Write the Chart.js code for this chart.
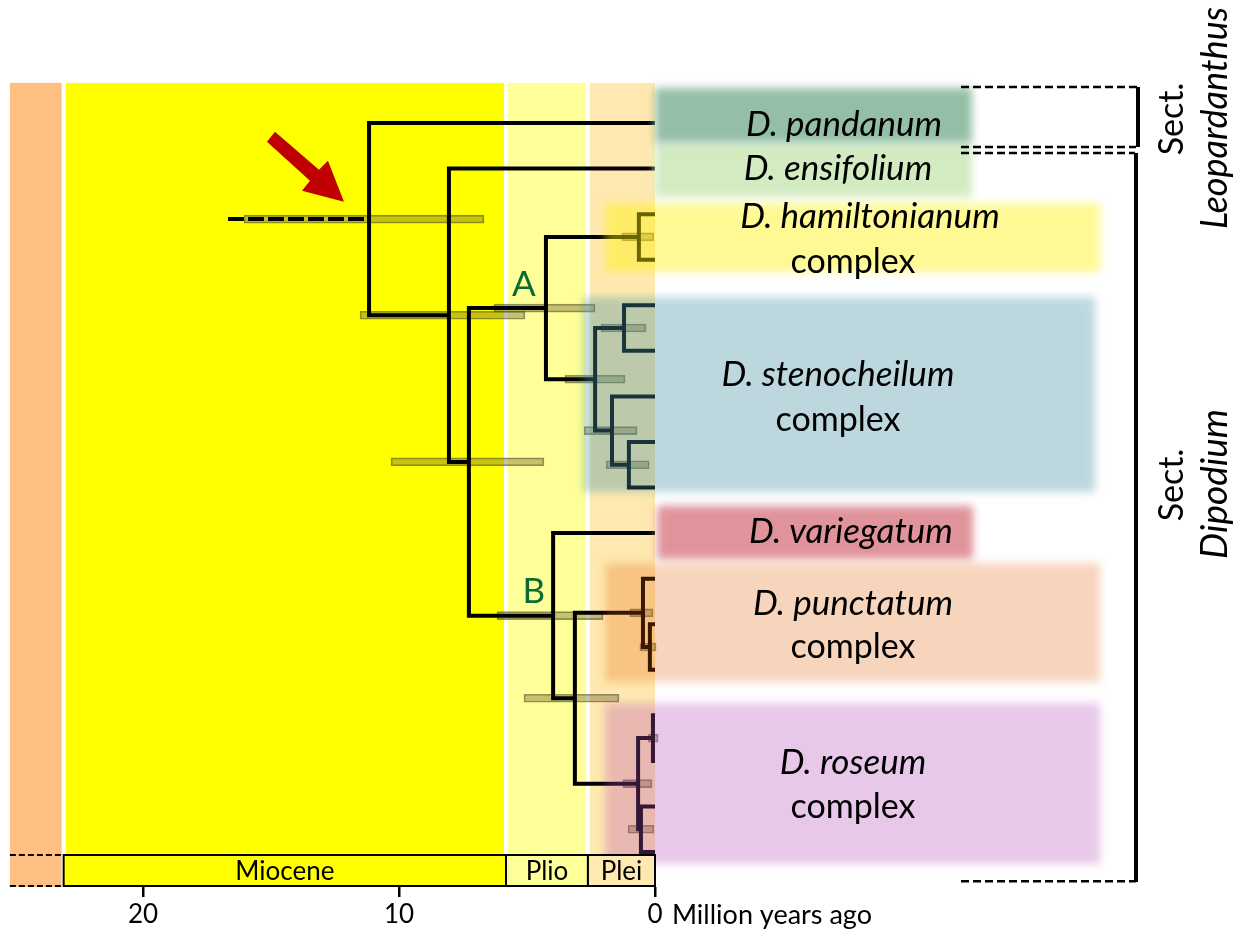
<!DOCTYPE html>
<html>
<head>
<meta charset="utf-8">
<script src="https://cdn.jsdelivr.net/npm/chart.js@4.4.1/dist/chart.umd.min.js"></script>
<style>
  html, body { margin: 0; padding: 0; background: #ffffff; }
  canvas { display: block; }
</style>
</head>
<body>
<canvas id="tree" width="1249" height="937"></canvas>
<script>
// ---- Tips, top to bottom (row = position in this list) ----
const tipNames = ['pandanum', 'ensifolium', 'ham1', 'ham2',
  'sten1', 'sten2', 'sten3', 'sten4', 'sten5', 'variegatum',
  'punct1', 'punct2', 'punct3', 'ros1', 'ros2', 'ros3', 'ros4'];

// ---- Internal nodes: children, mean age (Ma) and 95% HPD interval ----
const nodeNames = ['root', 'n2', 'n3', 'A', 'ham', 'S1', 'S1a', 'S1b', 'S1b2',
  'B', 'B2', 'P1', 'P2', 'R', 'R1', 'R2'];
const nodeChildren = [
  ['pandanum', 'n2'], ['ensifolium', 'n3'], ['A', 'B'], ['ham', 'S1'],
  ['ham1', 'ham2'], ['S1a', 'S1b'], ['sten1', 'sten2'], ['sten3', 'S1b2'],
  ['sten4', 'sten5'], ['variegatum', 'B2'], ['P1', 'R'], ['punct1', 'P2'],
  ['punct2', 'punct3'], ['R1', 'R2'], ['ros1', 'ros2'], ['ros3', 'ros4']];
const nodeAges  = [11.17, 8.05, 7.27, 4.26, 0.63, 2.34, 1.21, 1.68, 1.02, 3.98, 3.13, 0.47, 0.20, 0.66, 0.08, 0.55];
const hpdOld    = [16.05, 11.52, 10.31, 6.29, 1.29, 3.52, 2.11, 2.77, 1.91, 6.17, 5.12, 0.98, 0.59, 1.25, 0.27, 1.05];
const hpdYoung  = [6.68, 5.08, 4.34, 2.34, 0.00, 1.17, 0.35, 0.70, 0.23, 2.03, 1.41, 0.08, -0.04, 0.12, -0.12, 0.04];
const rootStemAge = 16.68;

// ---- Geological time scale ----
const epochNames = ['', 'Miocene', 'Plio', 'Plei'];
const epochOld   = [25.2, 23.1, 5.82, 2.62];
const epochYoung = [23.1, 5.82, 2.62, 0];
const epochColors = ['#ffbf80', '#ffff00', '#ffff99', '#ffe9b0'];

// ---- Axis ----
const tickValues = [20, 10, 0];
const axisTitle = 'Million years ago';

// ---- Clades and sections ----
const cladeNames  = ['D. pandanum', 'D. ensifolium', 'D. hamiltonianum', 'D. stenocheilum', 'D. variegatum', 'D. punctatum', 'D. roseum'];
const cladeSuffix = ['', '', 'complex', 'complex', '', 'complex', 'complex'];
const sectionNames = ['Leopardanthus', 'Dipodium'];

// ---------- layout helpers ----------
const tipIndex = Object.fromEntries(tipNames.map((n, i) => [n, i]));
const nodeIndex = Object.fromEntries(nodeNames.map((n, i) => [n, i]));
const rowOf = (name) => {
  if (name in tipIndex) return tipIndex[name];
  const c = nodeChildren[nodeIndex[name]];
  return (rowOf(c[0]) + rowOf(c[1])) / 2;
};
const ageOf = (name) => (name in tipIndex) ? 0 : nodeAges[nodeIndex[name]];

// Branch datasets: one bracket per internal node
const branchSets = nodeNames.map((n, i) => {
  const [a, b] = nodeChildren[i];
  return {
    type: 'line',
    data: [
      { x: ageOf(a), y: rowOf(a) },
      { x: nodeAges[i], y: rowOf(a) },
      { x: nodeAges[i], y: rowOf(b) },
      { x: ageOf(b), y: rowOf(b) }
    ],
    borderColor: '#000000', borderWidth: 4, pointRadius: 0, tension: 0,
    borderJoinStyle: 'miter', borderCapStyle: 'butt', fill: false, order: 1
  };
});

// Stem leading into the root, dashed
branchSets.push({
  type: 'line',
  data: [{ x: rootStemAge, y: rowOf('root') }, { x: nodeAges[0], y: rowOf('root') }],
  borderColor: '#000000', borderWidth: 4, borderDash: [16, 4], pointRadius: 0,
  borderCapStyle: 'butt', fill: false, order: 1
});

// HPD bars as floating horizontal bars
const hpdSet = {
  type: 'bar', indexAxis: 'y',
  data: nodeNames.map((n, i) => ({ x: [hpdYoung[i], hpdOld[i]], y: rowOf(n) })),
  backgroundColor: 'rgba(110,102,40,0.40)', borderColor: 'rgba(60,60,40,0.55)',
  borderWidth: 1, borderSkipped: false, barThickness: 8, order: 2
};

// ---------- decoration styles ----------
const FONT = 'Lato, "Open Sans", sans-serif';
const bandTopRow = -0.88;
const cladeBoxes = [
  { fill: '#94bfa6', top: -0.77, bottom: 0.44, left: 0.0, right: 972, cx: 844, rows: [0.04] },
  { fill: '#d3ebc1', top: 0.44, bottom: 1.62, left: 0.0, right: 972, cx: 838, rows: [1.01] },
  { fill: 'rgba(255,240,0,0.42)', top: 1.76, bottom: 3.27, left: 1.95, right: 1100, cx: 870, cx2: 853, rows: [2.06, 3.05] },
  { fill: 'rgba(70,147,164,0.36)', top: 3.82, bottom: 8.1, left: 2.81, right: 1095, cx: 838, rows: [5.53, 6.52] },
  { fill: '#e0939a', top: 8.4, bottom: 9.57, left: -0.08, right: 973, cx: 851, rows: [8.96] },
  { fill: 'rgba(223,92,0,0.26)', top: 9.66, bottom: 12.27, left: 1.95, right: 1100, cx: 853, rows: [10.54, 11.5] },
  { fill: 'rgba(180,73,180,0.30)', top: 12.73, bottom: 16.26, left: 1.95, right: 1100, cx: 853, rows: [14.05, 15.01] }
];
const boxDrawOrder = [1, 0, 2, 3, 4, 5, 6];

const decorPlugin = {
  id: 'decor',
  beforeDatasetsDraw(chart) {
    const { ctx, chartArea } = chart;
    const xs = chart.scales.x, ys = chart.scales.y;
    const top = ys.getPixelForValue(bandTopRow);
    ctx.save();
    epochOld.forEach((o, i) => {
      const x1 = xs.getPixelForValue(o) + (i > 0 ? 2 : 0);
      const x2 = xs.getPixelForValue(epochYoung[i]) - (i < epochOld.length - 1 ? 2 : 0);
      ctx.fillStyle = epochColors[i];
      ctx.fillRect(x1, top, x2 - x1, chartArea.bottom - top);
    });
    ctx.restore();
  },
  afterDatasetsDraw(chart) {
    const { ctx, chartArea } = chart;
    const xs = chart.scales.x, ys = chart.scales.y;
    const X = v => xs.getPixelForValue(v), Y = v => ys.getPixelForValue(v);
    ctx.save();

    // translucent clade boxes with soft edges
    ctx.filter = 'blur(4px)';
    boxDrawOrder.forEach(i => {
      const b = cladeBoxes[i];
      const x1 = X(b.left), y1 = Y(b.top), y2 = Y(b.bottom);
      ctx.fillStyle = b.fill;
      ctx.fillRect(x1, y1, b.right - x1, y2 - y1);
    });
    ctx.filter = 'none';

    // clade names
    ctx.fillStyle = '#000';
    ctx.textAlign = 'center';
    ctx.textBaseline = 'middle';
    cladeBoxes.forEach((b, i) => {
      ctx.font = 'italic 35px ' + FONT;
      ctx.fillText(cladeNames[i], b.cx, Y(b.rows[0]));
      if (cladeSuffix[i]) {
        ctx.font = '34px ' + FONT;
        ctx.fillText(cladeSuffix[i], b.cx2 || b.cx, Y(b.rows[1]));
      }
    });

    // clade letters
    ctx.fillStyle = '#0b6b35';
    ctx.font = '35px ' + FONT;
    ctx.fillText('A', X(5.12), Y(3.56));
    ctx.fillText('B', X(4.73), Y(10.29));

    // time-scale box at the bottom
    const by2 = chartArea.bottom - 1, by1 = by2 - 31;
    ctx.lineWidth = 2;
    ctx.strokeStyle = '#000';
    for (let i = 1; i < epochOld.length; i++) {
      const x1 = X(epochOld[i]), x2 = X(epochYoung[i]);
      ctx.fillStyle = epochColors[i];
      ctx.fillRect(x1, by1, x2 - x1, by2 - by1);
      ctx.strokeRect(x1, by1, x2 - x1, by2 - by1);
      ctx.fillStyle = '#000';
      ctx.font = '26px ' + FONT;
      ctx.fillText(epochNames[i], (x1 + x2) / 2, (by1 + by2) / 2 + 1);
    }
    ctx.setLineDash([6, 3]);
    [by1, by2].forEach(yy => {
      ctx.beginPath();
      ctx.moveTo(X(epochOld[0]), yy);
      ctx.lineTo(X(epochYoung[0]) - 2, yy);
      ctx.stroke();
    });

    // section brackets
    ctx.setLineDash([8, 4]);
    ctx.lineWidth = 2.5;
    const dashRows = [[-0.79, 1138], [0.527, 1136], [0.658, 1135], [16.64, 1136]];
    dashRows.forEach(([r, xe]) => {
      ctx.beginPath();
      ctx.moveTo(961, Y(r));
      ctx.lineTo(xe, Y(r));
      ctx.stroke();
    });
    ctx.setLineDash([]);
    ctx.lineWidth = 4;
    ctx.beginPath();
    ctx.moveTo(1138, Y(-0.79)); ctx.lineTo(1138, Y(0.527));
    ctx.moveTo(1136, Y(0.658)); ctx.lineTo(1136, Y(16.66));
    ctx.stroke();

    // section labels, rotated
    const vText = (txt, font, x, y) => {
      ctx.save();
      ctx.translate(x, y);
      ctx.rotate(-Math.PI / 2);
      ctx.font = font;
      ctx.fillText(txt, 0, 0);
      ctx.restore();
    };
    ctx.fillStyle = '#000';
    vText('Sect.', '34px ' + FONT, 1172, 119);
    vText(sectionNames[0], 'italic 36px ' + FONT, 1215, 118);
    vText('Sect.', '34px ' + FONT, 1172, 485);
    vText(sectionNames[1], 'italic 37px ' + FONT, 1215, 484);

    // red arrow pointing at the root stem
    const tx = X(12.15), ty = Y(1.73);
    const arrow = [[-69, -70], [-25, -32], [-16, -41], [0, 0], [-42, -11], [-34, -21], [-77, -60]];
    ctx.fillStyle = '#c00000';
    ctx.beginPath();
    arrow.forEach(([dx, dy], k) => k ? ctx.lineTo(tx + dx, ty + dy) : ctx.moveTo(tx + dx, ty + dy));
    ctx.closePath();
    ctx.fill();

    // axis title
    ctx.fillStyle = '#000';
    ctx.textAlign = 'left';
    ctx.font = '27px ' + FONT;
    ctx.fillText(axisTitle, X(0) + 17, chartArea.bottom + 28);

    ctx.restore();
  }
};

new Chart(document.getElementById('tree'), {
  type: 'line',
  data: { datasets: [...branchSets, hpdSet] },
  options: {
    responsive: false,
    devicePixelRatio: 1,
    animation: false,
    events: [],
    layout: { padding: 0 },
    plugins: { legend: { display: false }, tooltip: { enabled: false } },
    scales: {
      x: {
        type: 'linear', reverse: true, min: -23.203, max: 25.586,
        afterBuildTicks: s => { s.ticks = tickValues.map(v => ({ value: v })); },
        afterFit: s => { s.height = 50; },
        grid: { drawOnChartArea: false, drawTicks: true, tickLength: 10, color: '#000', lineWidth: 2.5 },
        border: { display: false },
        ticks: { color: '#000', font: { family: FONT, size: 26 }, padding: 2, maxRotation: 0, autoSkip: false }
      },
      y: {
        type: 'linear', reverse: true, min: -2.6996, max: 16.768,
        display: false, offset: false, grid: { offset: false }
      }
    }
  },
  plugins: [decorPlugin]
});
</script>
</body>
</html>
